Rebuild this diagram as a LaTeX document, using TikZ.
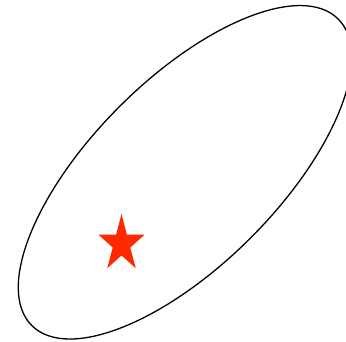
\documentclass[tikz,border=0pt]{standalone}
\definecolor{starred}{RGB}{255,41,0}
\begin{document}
\begin{tikzpicture}[x=1pt,y=1pt]
\useasboundingbox (0,0) rectangle (346,342);
\clip (0,0) rectangle (346,342);
\draw[line width=1.3pt, rotate around={45:(185,169.7)}] (185,169.7) ellipse [x radius=216.7pt, y radius=92.8pt];
\begin{scope}[shift={(121.5,98)}, xscale=24.2, yscale=30]
\fill[starred] (90:1) -- (126:0.382) -- (162:1) -- (198:0.382) -- (234:1) -- (270:0.382) -- (306:1) -- (342:0.382) -- (18:1) -- (54:0.382) -- cycle;
\end{scope}
\end{tikzpicture}
\end{document}
